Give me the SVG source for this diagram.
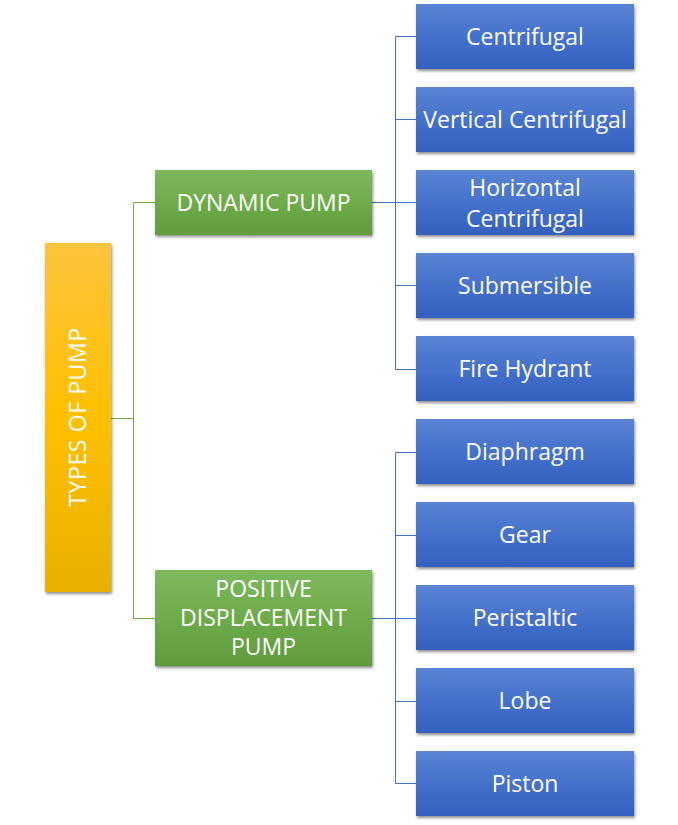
<svg xmlns="http://www.w3.org/2000/svg" width="678" height="825" viewBox="0 0 678 825">
<defs>
<linearGradient id="gy" x1="0" y1="0" x2="0" y2="1"><stop offset="0" stop-color="#fdc43e"/><stop offset="0.5" stop-color="#ffc000"/><stop offset="1" stop-color="#e8b004"/></linearGradient>
<linearGradient id="gg" x1="0" y1="0" x2="0" y2="1"><stop offset="0" stop-color="#7cb95e"/><stop offset="0.5" stop-color="#6eab4a"/><stop offset="1" stop-color="#5e9c3c"/></linearGradient>
<linearGradient id="gb" x1="0" y1="0" x2="0" y2="1"><stop offset="0" stop-color="#5b84d4"/><stop offset="0.5" stop-color="#4571cc"/><stop offset="1" stop-color="#3461bf"/></linearGradient>
<filter id="sh" x="-10%" y="-10%" width="130%" height="130%"><feGaussianBlur in="SourceAlpha" stdDeviation="1.5"/><feOffset dx="1" dy="2" result="b"/><feComponentTransfer><feFuncA type="linear" slope="0.45"/></feComponentTransfer><feMerge><feMergeNode/><feMergeNode in="SourceGraphic"/></feMerge></filter>
</defs>
<style>
text{font-family:"Open Sans","Noto Sans","Liberation Sans",sans-serif;fill:#fff;font-size:23px;text-anchor:middle;dominant-baseline:central}
.b{fill:url(#gb);filter:url(#sh)}
.g{fill:url(#gg);filter:url(#sh)}
.y{fill:url(#gy);filter:url(#sh)}
.cg{stroke:#70ad47;stroke-width:1;fill:none}
.cb{stroke:#4472c4;stroke-width:1;fill:none}
</style>
<rect width="678" height="825" fill="#fff"/>
<g id="connectors">
<path class="cg" d="M111 418.5H133.5M133.5 202.5V618.5M133.5 202.5H155M133.5 618.5H155"/>
<path class="cb" d="M372 202.5H395.5M395.5 36.5V369.5M395.5 36.5H416M395.5 119.5H416M395.5 202.5H416M395.5 285.5H416M395.5 369.5H416"/>
<path class="cb" d="M372 618.5H395.5M395.5 452.5V783.5M395.5 452.5H416M395.5 535.5H416M395.5 618.5H416M395.5 701.5H416M395.5 783.5H416"/>
</g>
<g id="root"><rect class="y" x="45" y="243" width="66" height="349"/><text transform="translate(77 417) rotate(-90)" font-size="21" letter-spacing="0.6">TYPES OF PUMP</text></g>
<g id="dynamic"><rect class="g" x="155" y="170" width="217" height="65"/><text x="263.5" y="202">DYNAMIC PUMP</text></g>
<g id="positive"><rect class="g" x="155" y="570" width="217" height="96"/><text x="263.5" y="588">POSITIVE<tspan x="263.5" y="617">DISPLACEMENT</tspan><tspan x="263.5" y="646">PUMP</tspan></text></g>
<g id="centrifugal"><rect class="b" x="416" y="4" width="218" height="65"/><text x="525" y="36">Centrifugal</text></g>
<g id="vertical"><rect class="b" x="416" y="87" width="218" height="65"/><text x="525" y="119">Vertical Centrifugal</text></g>
<g id="horizontal"><rect class="b" x="416" y="170" width="218" height="65"/><text x="525" y="186.5" font-size="22">Horizontal<tspan x="525" y="217.5">Centrifugal</tspan></text></g>
<g id="submersible"><rect class="b" x="416" y="253" width="218" height="65"/><text x="525" y="285">Submersible</text></g>
<g id="fire"><rect class="b" x="416" y="336" width="218" height="65"/><text x="525" y="368">Fire Hydrant</text></g>
<g id="diaphragm"><rect class="b" x="416" y="419" width="218" height="65"/><text x="525" y="451">Diaphragm</text></g>
<g id="gear"><rect class="b" x="416" y="502" width="218" height="65"/><text x="525" y="534">Gear</text></g>
<g id="peristaltic"><rect class="b" x="416" y="585" width="218" height="65"/><text x="525" y="617">Peristaltic</text></g>
<g id="lobe"><rect class="b" x="416" y="668" width="218" height="65"/><text x="525" y="700">Lobe</text></g>
<g id="piston"><rect class="b" x="416" y="751" width="218" height="65"/><text x="525" y="783">Piston</text></g>
</svg>
